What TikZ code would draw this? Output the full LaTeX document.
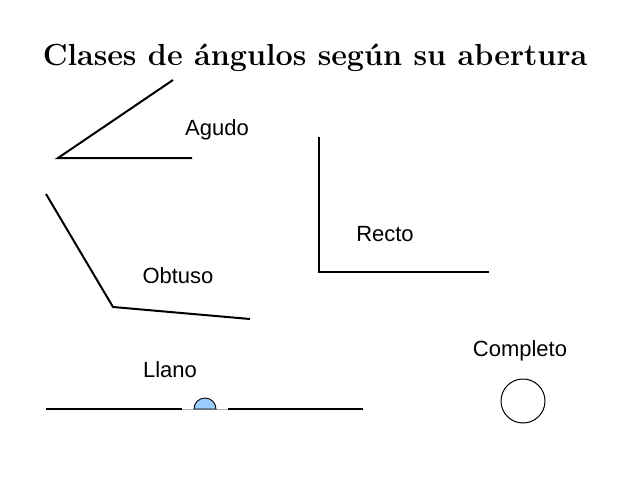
\documentclass[tikz,border=0pt]{standalone}
\usepackage{fontspec}
\newfontfamily\lab{Liberation Sans}
\begin{document}
\begin{tikzpicture}[x=1pt,y=-1pt,
  ray/.style={line width=2pt,black},
  lbl/.style={font=\lab\fontsize{22}{26}\selectfont,inner sep=0pt}]
\useasboundingbox (0,0) rectangle (638,479);
\node[font=\fontsize{30.5}{34}\selectfont\bfseries] (title) at (315,58) {Clases de ángulos según su abertura};
% Agudo
\coordinate (a0) at (58,158); \coordinate (a1) at (192,158); \coordinate (a2) at (173,80);
\draw[ray] (a1) -- (a0) -- (a2);
\node[lbl] (agudo) at (217,130) {Agudo};
% Recto
\coordinate (r0) at (319,137); \coordinate (r1) at (319,272); \coordinate (r2) at (489,272);
\draw[ray] (r0) -- (r1) -- (r2);
\node[lbl] (recto) at (385,234) {Recto};
% Obtuso
\coordinate (o0) at (46,194); \coordinate (o1) at (113,307); \coordinate (o2) at (250,319);
\draw[ray] (o0) -- (o1) -- (o2);
\node[lbl] (obtuso) at (178,276) {Obtuso};
% Llano
\coordinate (l0) at (46,409); \coordinate (l1) at (182,409); \coordinate (l2) at (228,409); \coordinate (l3) at (363,409);
\draw[ray] (l0) -- (l1); \draw[ray] (l2) -- (l3);
\draw[line width=0.4pt,gray!60] (l1) -- (l2);
\draw[fill={rgb,255:red,153;green,204;blue,255},line width=0.9pt] (194,409) arc[start angle=180,end angle=360,radius=11] -- cycle;
\node[lbl] (llano) at (170,370) {Llano};
% Completo
\node[draw,circle,minimum size=44pt,line width=1pt,inner sep=0pt] (circ) at (523,401) {};
\node[lbl] (completo) at (520,351) {Completo};
\end{tikzpicture}
\end{document}
